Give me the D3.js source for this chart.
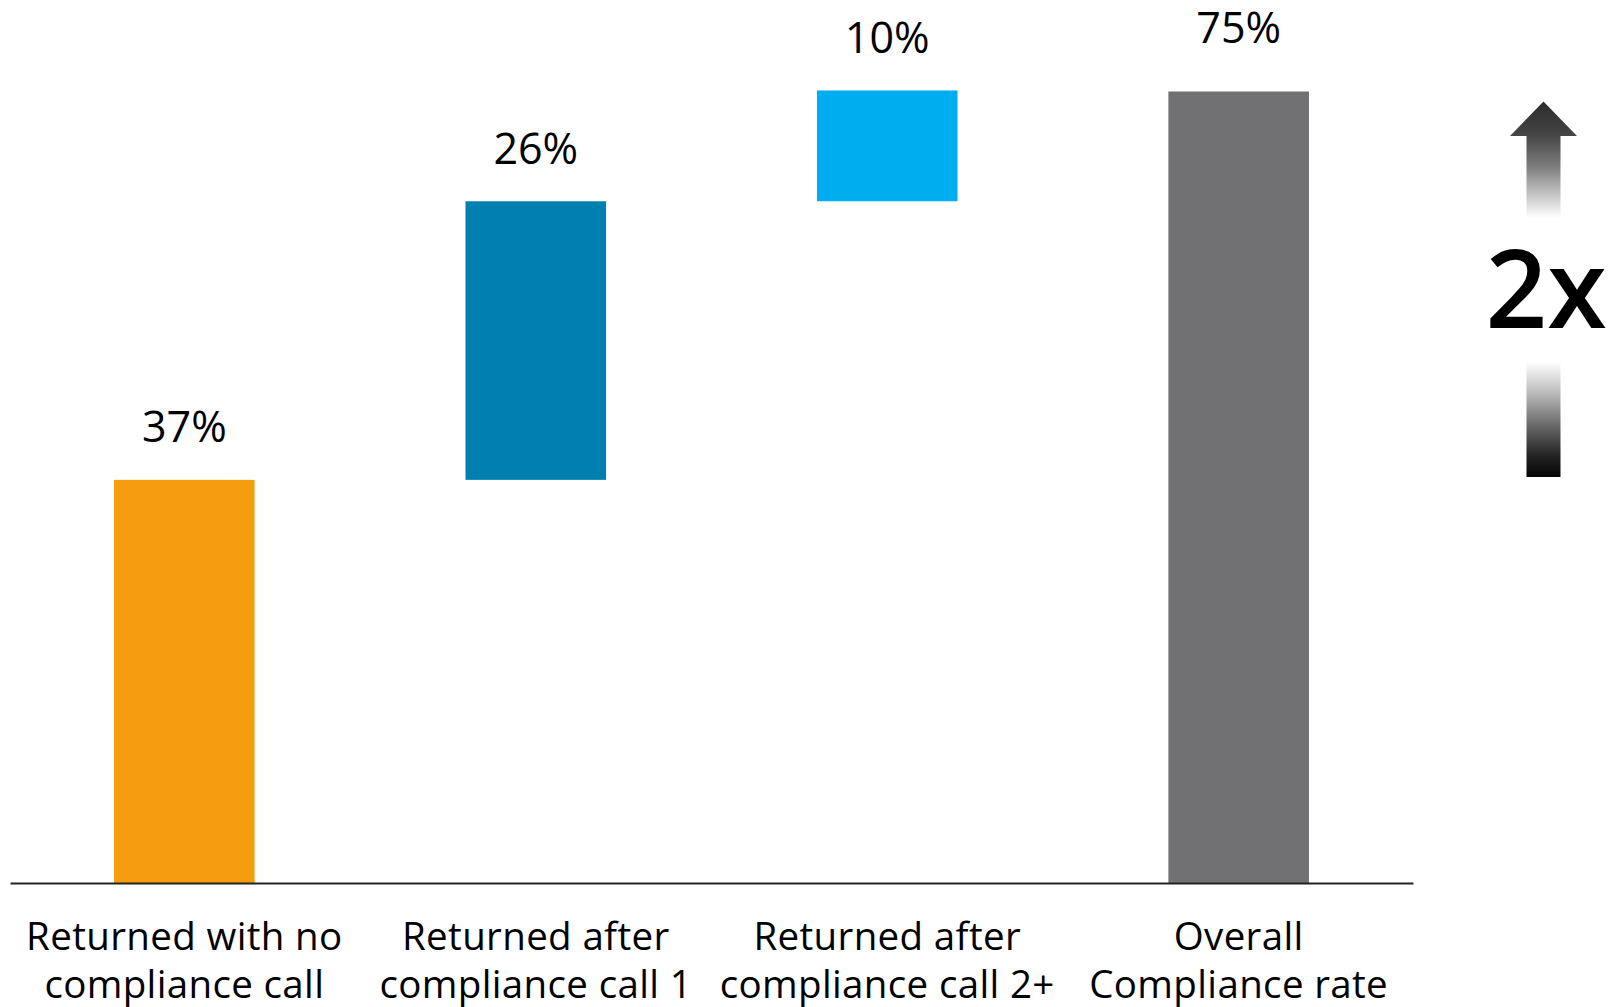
<!DOCTYPE html>
<html>
<head>
<meta charset="utf-8">
<script src="https://cdn.jsdelivr.net/npm/d3@7/dist/d3.min.js"></script>
<style>
  html, body { margin: 0; padding: 0; background: #fff; }
  svg { display: block; }
  text { font-family: "Open Sans", "Noto Sans", "Liberation Sans", sans-serif; fill: #000; }
</style>
</head>
<body>
<svg id="chart" width="1612" height="1007"></svg>
<script>
// ---- data ----
const categories = ["noCall", "call1", "call2plus", "overall"];
const categoryLabels = [
  ["Returned with no", "compliance call"],
  ["Returned after", "compliance call 1"],
  ["Returned after", "compliance call 2+"],
  ["Overall", "Compliance rate"]
];
const barStart = [0, 38.2, 64.6, 0];
const barEnd = [38.2, 64.6, 75.1, 75];
const isTotal = [false, false, false, true];
const valueLabels = ["37%", "26%", "10%", "75%"];
const palette = ["#F59D0E", "#0080B1", "#00AEEF", "#717072"];
const annotationText = "2x";

// ---- layout ----
const baseY = 883, topY = 91.5;
const svg = d3.select("#chart");

const x = d3.scaleBand()
  .domain(categories)
  .range([10, 1413])
  .paddingInner(0.6)
  .paddingOuter(0.296);

const y = d3.scaleLinear().domain([0, 75]).range([baseY, topY]);
const color = d3.scaleOrdinal().domain(categories).range(palette);

const rows = categories.map((c, i) => ({
  cat: c, start: barStart[i], end: barEnd[i], label: valueLabels[i],
  total: isTotal[i], lines: categoryLabels[i]
}));

// bars
svg.append("g").selectAll("rect").data(rows).join("rect")
  .attr("x", d => x(d.cat))
  .attr("width", x.bandwidth())
  .attr("y", d => y(d.end))
  .attr("height", d => y(d.start) - y(d.end))
  .attr("fill", d => color(d.cat));

// value labels
svg.append("g").selectAll("text").data(rows).join("text")
  .attr("x", d => x(d.cat) + x.bandwidth() / 2)
  .attr("y", d => y(d.end) - (d.total ? 49 : 37.5))
  .attr("text-anchor", "middle")
  .style("font-size", "43px")
  .text(d => d.label);

// x axis
const axis = svg.append("g")
  .attr("transform", `translate(0,${baseY})`)
  .call(d3.axisBottom(x).tickSize(0).tickSizeOuter(0).tickFormat(() => ""));
axis.select(".domain").attr("stroke", "#222").attr("stroke-width", 2);
axis.selectAll(".tick text").remove();
axis.selectAll(".tick").each(function(c, i) {
  const t = d3.select(this).append("text")
    .attr("text-anchor", "middle")
    .style("font-size", "38.5px")
    .style("letter-spacing", "0.35px")
    .attr("fill", "#000");
  categoryLabels[i].forEach((ln, j) => {
    t.append("tspan").attr("x", 0).attr("y", 67 + j * 48).text(ln);
  });
});

// annotation arrow
const defs = svg.append("defs");
const g1 = defs.append("linearGradient").attr("id", "gUp")
  .attr("gradientUnits", "userSpaceOnUse")
  .attr("x1", 0).attr("y1", 101).attr("x2", 0).attr("y2", 218);
[[0, "#2a2a2a"], [0.3, "#474747"], [0.55, "#7a7a7a"], [0.8, "#c4c4c4"], [1, "#ffffff"]]
  .forEach(s => g1.append("stop").attr("offset", s[0]).attr("stop-color", s[1]));
const g2 = defs.append("linearGradient").attr("id", "gDown")
  .attr("gradientUnits", "userSpaceOnUse")
  .attr("x1", 0).attr("y1", 362).attr("x2", 0).attr("y2", 477);
[[0, "#ffffff"], [0.25, "#c0c0c0"], [0.55, "#6a6a6a"], [0.8, "#262626"], [1, "#050505"]]
  .forEach(s => g2.append("stop").attr("offset", s[0]).attr("stop-color", s[1]));

const ax = 1543.5;
svg.append("path")
  .attr("d", `M${ax},101.5 L${ax + 33.5},136 L${ax + 17},136 L${ax + 17},218 L${ax - 17},218 L${ax - 17},136 L${ax - 33.5},136 Z`)
  .attr("fill", "url(#gUp)");
svg.append("rect")
  .attr("x", ax - 17).attr("width", 34)
  .attr("y", 362).attr("height", 115)
  .attr("fill", "url(#gDown)");
svg.append("text")
  .attr("x", 1546).attr("y", 328)
  .attr("text-anchor", "middle")
  .style("font-size", "108px")
  .style("font-weight", 600)
  .text(annotationText);
</script>
</body>
</html>
